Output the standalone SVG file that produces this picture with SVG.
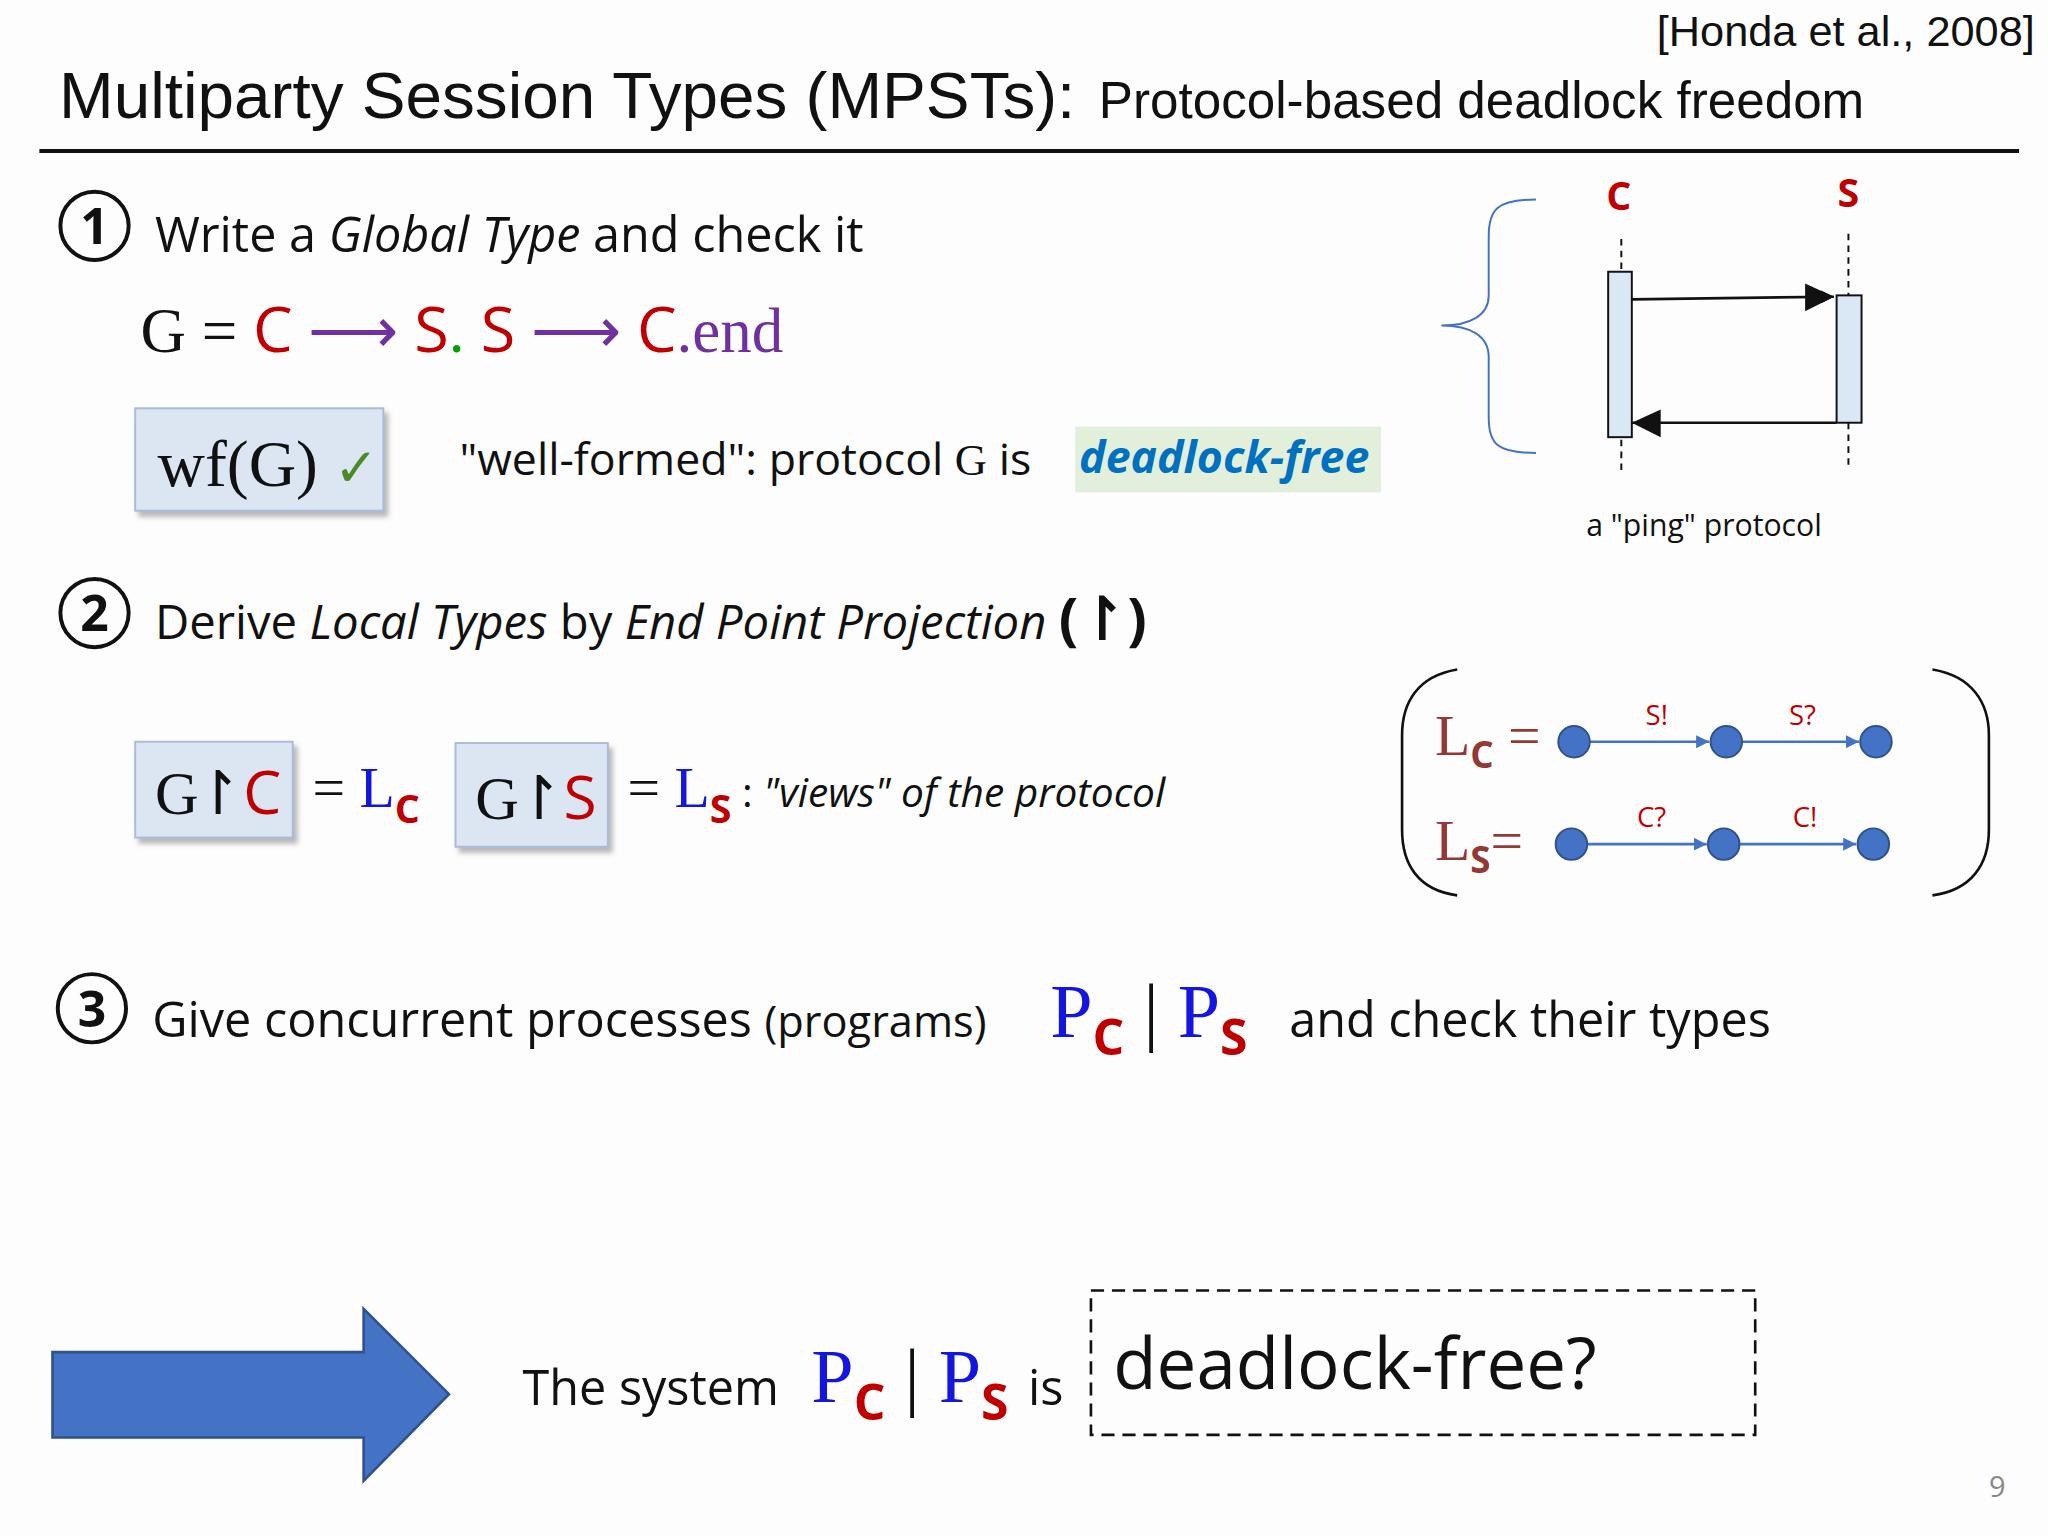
<svg xmlns="http://www.w3.org/2000/svg" width="2048" height="1536" viewBox="0 0 2048 1536">
<defs>
<style>
.s{font-family:"Open Sans","Noto Sans",sans-serif;fill:#111}
.a{font-family:"Liberation Sans",Arial,sans-serif;fill:#111}
.r{font-family:"Liberation Serif","Times New Roman",serif}
.red{fill:#c00000}
.blue{fill:#1515e0}
.br{fill:#953734}
.circ{fill:none;stroke:#111;stroke-width:3}
.box{fill:#dce6f2;stroke:#a9bcd8;stroke-width:1.5;filter:url(#sh)}
.node{fill:#4472c4;stroke:#2f528f;stroke-width:1.5}
.ln{stroke:#4472c4;stroke-width:2;fill:none;marker-end:url(#bh)}
</style>
<filter id="sh" x="-10%" y="-10%" width="130%" height="130%"><feDropShadow dx="3" dy="4" stdDeviation="2" flood-color="#888" flood-opacity="0.6"/></filter>
<marker id="kh" viewBox="0 0 10 10" refX="10" refY="5" markerWidth="10" markerHeight="10" markerUnits="userSpaceOnUse" orient="auto"><path d="M0,0L10,5L0,10z" fill="#111"/></marker>
<marker id="bh" viewBox="0 0 10 10" refX="10" refY="5" markerWidth="5" markerHeight="5" orient="auto"><path d="M0,0L10,5L0,10z" fill="#4472c4"/></marker>
</defs>
<rect width="2048" height="1536" fill="#fdfdfd"/>
<g transform="scale(1.3128)">
<g id="header">
<text class="a" x="1550" y="35" font-size="33" text-anchor="end">[Honda et al., 2008]</text>
<text class="a" x="45" y="90" font-size="50">Multiparty Session Types (MPSTs): <tspan font-size="39" dx="4">Protocol-based deadlock freedom</tspan></text>
<line x1="30" y1="115" x2="1538" y2="115" stroke="#111" stroke-width="3"/>
</g>
<g id="step1">
<circle class="circ" cx="72" cy="172" r="26"/>
<text class="s" x="72" y="186" font-size="38" font-weight="bold" text-anchor="middle">1</text>
<text class="s" x="118" y="192" font-size="37">Write a <tspan font-style="italic">Global Type</tspan> and check it</text>
<text x="107" y="268" font-size="48"><tspan class="r" fill="#111">G = </tspan><tspan class="s red">C</tspan><tspan class="r" fill="#7030a0"> ⟶ </tspan><tspan class="s red">S</tspan><tspan class="r" fill="#00a000">.</tspan><tspan class="s red"> S</tspan><tspan class="r" fill="#7030a0"> ⟶ </tspan><tspan class="s red">C</tspan><tspan class="r" fill="#7030a0">.end</tspan></text>
</g>
<g id="wf">
<rect class="box" x="103" y="311" width="189" height="78"/>
<text class="r" x="120" y="370" font-size="50" fill="#111">wf(G) <tspan fill="#4a8a2a" font-size="40">✓</tspan></text>
</g>
<text class="s" x="350" y="362" font-size="34">"well-formed": protocol <tspan class="r">G</tspan> is</text>
<g id="deadlockfree">
<rect x="819" y="325" width="233" height="50" fill="#e2efda"/>
<text class="s" x="822" y="360" font-size="34" font-weight="bold" font-style="italic" style="fill:#0070c0">deadlock-free</text>
</g>
<g id="seq">
<path d="M1170,152 C1140,152 1134,160 1134,180 L1134,225 C1134,240 1120,248 1098,248 C1120,248 1134,256 1134,272 L1134,318 C1134,338 1140,345 1170,345" fill="none" stroke="#4472c4" stroke-width="1.5"/>
<text class="s red" x="1233" y="160" font-size="30" font-weight="bold" text-anchor="middle">C</text>
<text class="s red" x="1408" y="158" font-size="30" font-weight="bold" text-anchor="middle">S</text>
<line x1="1235" y1="182" x2="1235" y2="362" stroke="#111" stroke-width="1.5" stroke-dasharray="5,4"/>
<line x1="1408" y1="178" x2="1408" y2="358" stroke="#111" stroke-width="1.5" stroke-dasharray="5,4"/>
<rect x="1225" y="207" width="18" height="126" fill="#dae8f5" stroke="#111" stroke-width="1.5"/>
<rect x="1399" y="225" width="19" height="97" fill="#dae8f5" stroke="#111" stroke-width="1.5"/>
<line x1="1243" y1="228" x2="1397" y2="226" stroke="#111" stroke-width="2" marker-end="url(#kh)" style="marker-end:url(#kh)"/>
<path d="M1397,217 L1397,235 L1376,226z" fill="none"/>
<line x1="1399" y1="322" x2="1243" y2="322" stroke="#111" stroke-width="2"/>
<path d="M1397,226 L1375,216 L1375,237z" fill="#111"/>
<path d="M1243,322 L1265,312 L1265,333z" fill="#111"/>
<text class="s" x="1298" y="408" font-size="23" text-anchor="middle">a "ping" protocol</text>
</g>
<g id="step2">
<circle class="circ" cx="72" cy="467" r="26"/>
<text class="s" x="72" y="481" font-size="38" font-weight="bold" text-anchor="middle">2</text>
<text class="s" x="118" y="487" font-size="36">Derive <tspan font-style="italic">Local Types</tspan> by <tspan font-style="italic">End Point Projection</tspan> <tspan font-weight="bold" font-size="44">(↾)</tspan></text>
</g>
<g id="projC">
<rect class="box" x="103" y="565" width="120" height="73"/>
<text x="118" y="620" font-size="46" letter-spacing="-4"><tspan class="r" fill="#111">G↾</tspan><tspan class="s red" dx="4">C</tspan></text>
</g>
<text x="238" y="615" font-size="44"><tspan class="r" fill="#111">= </tspan><tspan class="r blue">L</tspan><tspan class="s red" font-weight="bold" font-size="30" dy="12">C</tspan></text>
<g id="projS">
<rect class="box" x="347" y="566" width="116" height="79"/>
<text x="362" y="624" font-size="46" letter-spacing="-4"><tspan class="r" fill="#111">G↾</tspan><tspan class="s red" dx="4">S</tspan></text>
</g>
<text x="478" y="615" font-size="44"><tspan class="r" fill="#111">= </tspan><tspan class="r blue">L</tspan><tspan class="s red" font-weight="bold" font-size="30" dy="12">S</tspan><tspan class="s" font-size="31" dy="-12"> : </tspan><tspan class="s" font-size="31" font-style="italic">"views" of the protocol</tspan></text>
<g id="locals">
<path d="M1110,510 C1080,515 1068,535 1068,560 L1068,632 C1068,658 1080,678 1110,682" fill="none" stroke="#111" stroke-width="2"/>
<path d="M1472,510 C1502,515 1515,535 1515,560 L1515,632 C1515,658 1502,678 1472,682" fill="none" stroke="#111" stroke-width="2"/>
<text x="1093" y="575" font-size="44"><tspan class="r br">L</tspan><tspan class="s br" font-weight="bold" font-size="28" dy="10">C</tspan><tspan class="r br" dy="-10"> =</tspan></text>
<text x="1093" y="655" font-size="44"><tspan class="r br">L</tspan><tspan class="s br" font-weight="bold" font-size="28" dy="10">S</tspan><tspan class="r br" dy="-10">=</tspan></text>
<line class="ln" x1="1211" y1="565" x2="1302" y2="565"/>
<line class="ln" x1="1327" y1="565" x2="1416" y2="565"/>
<line class="ln" x1="1209" y1="643" x2="1300" y2="643"/>
<line class="ln" x1="1325" y1="643" x2="1414" y2="643"/>
<circle class="node" cx="1199" cy="565" r="12"/><circle class="node" cx="1315" cy="565" r="12"/><circle class="node" cx="1429" cy="565" r="12"/>
<circle class="node" cx="1197" cy="643" r="12"/><circle class="node" cx="1313" cy="643" r="12"/><circle class="node" cx="1427" cy="643" r="12"/>
<text class="s red" x="1262" y="552" font-size="21" text-anchor="middle">S!</text>
<text class="s red" x="1373" y="552" font-size="21" text-anchor="middle">S?</text>
<text class="s red" x="1258" y="630" font-size="21" text-anchor="middle">C?</text>
<text class="s red" x="1375" y="630" font-size="21" text-anchor="middle">C!</text>
</g>
<g id="step3">
<circle class="circ" cx="70" cy="768" r="26"/>
<text class="s" x="70" y="782" font-size="38" font-weight="bold" text-anchor="middle">3</text>
<text class="s" x="116" y="790" font-size="37">Give concurrent processes <tspan font-size="33">(programs)</tspan></text>
<text x="800" y="790" font-size="58"><tspan class="r blue">P</tspan><tspan class="s red" font-weight="bold" font-size="38" dy="14">C</tspan><tspan class="r" fill="#111" dy="-14"> |</tspan><tspan class="r blue"> P</tspan><tspan class="s red" font-weight="bold" font-size="38" dy="14">S</tspan></text>
<text class="s" x="982" y="790" font-size="37">and check their types</text>
</g>
<g id="bigarrow">
<polygon points="40,1030 277,1030 277,997 342,1062 277,1128 277,1095 40,1095" fill="#4472c4" stroke="#2f528f" stroke-width="2"/>
</g>
<g id="conclusion">
<text class="s" x="398" y="1070" font-size="37">The system</text>
<text x="618" y="1068" font-size="58"><tspan class="r blue">P</tspan><tspan class="s red" font-weight="bold" font-size="38" dy="14">C</tspan><tspan class="r" fill="#111" dy="-14"> |</tspan><tspan class="r blue"> P</tspan><tspan class="s red" font-weight="bold" font-size="38" dy="14">S</tspan></text>
<text class="s" x="783" y="1070" font-size="37">is</text>
<rect x="831" y="983" width="506" height="110" fill="none" stroke="#111" stroke-width="2" stroke-dasharray="10,6"/>
<text class="s" x="848" y="1058" font-size="54">deadlock-free?</text>
</g>
<text class="s" x="1515" y="1140" font-size="22" style="fill:#888">9</text>
</g>
</svg>
